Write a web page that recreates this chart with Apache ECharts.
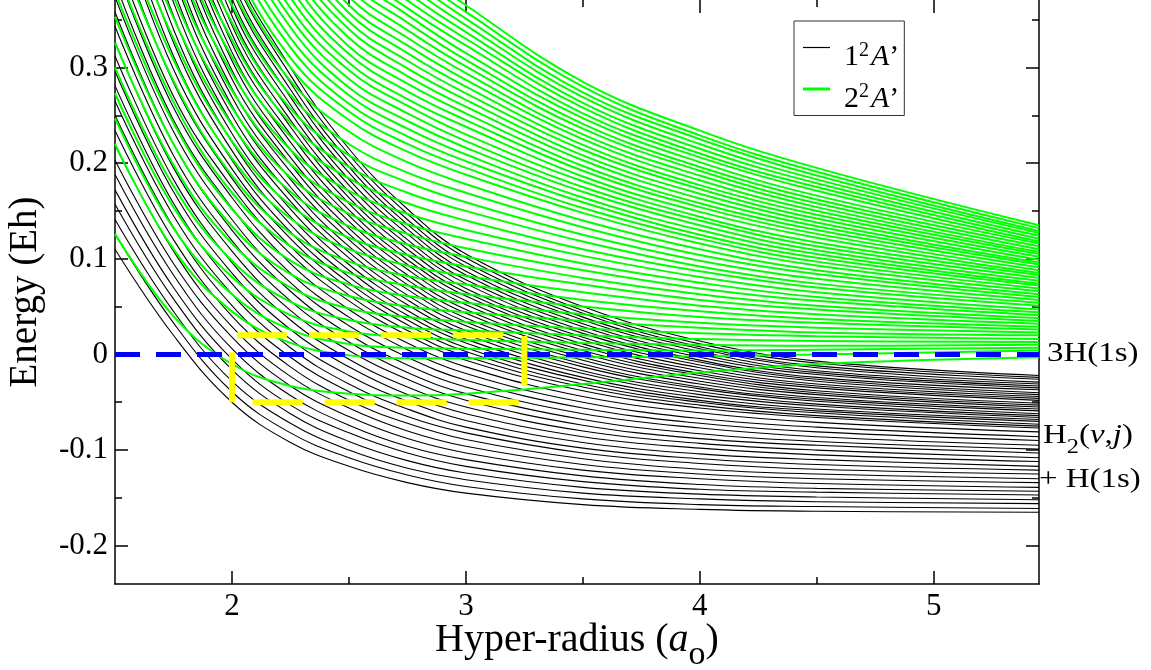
<!DOCTYPE html>
<html>
<head>
<meta charset="utf-8">
<script src="https://cdn.jsdelivr.net/npm/echarts@6/dist/echarts.min.js"></script>
<style>
html,body{margin:0;padding:0;background:#fff;}
#chart{width:1151px;height:670px;}
</style>
</head>
<body>
<div id="chart"></div>
<script>
// Hyper-radius sample points (a_o) shared by every curve
const rGrid = [1.5, 1.75, 2.0, 2.25, 2.5, 2.75, 3.0, 3.5, 4.0, 4.5, 5.45];

// 1 2A' adiabatic curves (Eh), one row per curve, values at rGrid
const blackCurves = [
  [0.110, 0.020, -0.050, -0.092, -0.117, -0.134, -0.145, -0.157, -0.162, -0.164, -0.165],
  [0.126, 0.033, -0.039, -0.082, -0.108, -0.126, -0.138, -0.151, -0.157, -0.159, -0.161],
  [0.141, 0.045, -0.028, -0.072, -0.100, -0.119, -0.131, -0.145, -0.151, -0.154, -0.156],
  [0.157, 0.058, -0.016, -0.062, -0.091, -0.111, -0.124, -0.139, -0.146, -0.149, -0.152],
  [0.172, 0.070, -0.005, -0.053, -0.082, -0.103, -0.117, -0.133, -0.141, -0.144, -0.147],
  [0.188, 0.083, 0.006, -0.043, -0.074, -0.096, -0.110, -0.127, -0.136, -0.140, -0.143],
  [0.203, 0.095, 0.018, -0.033, -0.065, -0.088, -0.103, -0.121, -0.130, -0.135, -0.139],
  [0.219, 0.108, 0.029, -0.023, -0.056, -0.080, -0.096, -0.115, -0.125, -0.130, -0.134],
  [0.234, 0.120, 0.040, -0.013, -0.048, -0.072, -0.089, -0.109, -0.120, -0.125, -0.130],
  [0.250, 0.133, 0.051, -0.003, -0.039, -0.065, -0.082, -0.103, -0.114, -0.120, -0.125],
  [0.265, 0.145, 0.063, 0.007, -0.031, -0.057, -0.076, -0.098, -0.109, -0.115, -0.121],
  [0.281, 0.158, 0.074, 0.016, -0.022, -0.049, -0.069, -0.092, -0.104, -0.110, -0.117],
  [0.296, 0.170, 0.085, 0.026, -0.013, -0.042, -0.062, -0.086, -0.098, -0.105, -0.112],
  [0.312, 0.183, 0.096, 0.036, -0.005, -0.034, -0.055, -0.080, -0.093, -0.100, -0.108],
  [0.327, 0.195, 0.108, 0.046, 0.004, -0.026, -0.048, -0.074, -0.088, -0.095, -0.103],
  [0.343, 0.208, 0.119, 0.056, 0.013, -0.019, -0.041, -0.068, -0.083, -0.091, -0.099],
  [0.358, 0.220, 0.130, 0.066, 0.021, -0.011, -0.034, -0.062, -0.077, -0.086, -0.095],
  [0.374, 0.233, 0.141, 0.075, 0.030, -0.003, -0.027, -0.056, -0.072, -0.081, -0.090],
  [0.389, 0.245, 0.153, 0.085, 0.039, 0.005, -0.020, -0.050, -0.067, -0.076, -0.086],
  [0.405, 0.258, 0.164, 0.095, 0.047, 0.012, -0.013, -0.044, -0.061, -0.071, -0.081],
  [0.420, 0.270, 0.175, 0.105, 0.056, 0.020, -0.006, -0.038, -0.056, -0.066, -0.077],
  [0.441, 0.284, 0.184, 0.113, 0.062, 0.025, -0.002, -0.034, -0.053, -0.064, -0.075],
  [0.462, 0.298, 0.194, 0.121, 0.069, 0.031, 0.003, -0.031, -0.050, -0.061, -0.073],
  [0.484, 0.312, 0.203, 0.128, 0.075, 0.036, 0.007, -0.027, -0.048, -0.059, -0.070],
  [0.505, 0.326, 0.213, 0.136, 0.081, 0.041, 0.012, -0.024, -0.045, -0.057, -0.068],
  [0.526, 0.340, 0.222, 0.144, 0.088, 0.046, 0.016, -0.020, -0.042, -0.054, -0.066],
  [0.547, 0.354, 0.231, 0.152, 0.094, 0.052, 0.021, -0.017, -0.039, -0.052, -0.064],
  [0.568, 0.368, 0.241, 0.160, 0.101, 0.057, 0.025, -0.013, -0.036, -0.049, -0.062],
  [0.590, 0.382, 0.250, 0.167, 0.107, 0.062, 0.030, -0.010, -0.034, -0.047, -0.059],
  [0.611, 0.396, 0.260, 0.175, 0.113, 0.068, 0.034, -0.006, -0.031, -0.045, -0.057],
  [0.632, 0.410, 0.269, 0.183, 0.120, 0.073, 0.038, -0.003, -0.028, -0.042, -0.055],
  [0.653, 0.424, 0.278, 0.191, 0.126, 0.078, 0.043, 0.001, -0.025, -0.040, -0.053],
  [0.674, 0.438, 0.288, 0.199, 0.132, 0.083, 0.047, 0.004, -0.022, -0.038, -0.051],
  [0.696, 0.452, 0.297, 0.206, 0.139, 0.089, 0.052, 0.008, -0.020, -0.035, -0.048],
  [0.717, 0.466, 0.307, 0.214, 0.145, 0.094, 0.056, 0.011, -0.017, -0.033, -0.046],
  [0.738, 0.480, 0.316, 0.222, 0.151, 0.099, 0.061, 0.015, -0.014, -0.031, -0.044],
  [0.759, 0.494, 0.325, 0.230, 0.158, 0.104, 0.065, 0.018, -0.011, -0.028, -0.042],
  [0.780, 0.508, 0.335, 0.238, 0.164, 0.110, 0.069, 0.022, -0.008, -0.026, -0.040],
  [0.802, 0.522, 0.344, 0.245, 0.170, 0.115, 0.074, 0.025, -0.006, -0.024, -0.037],
  [0.823, 0.536, 0.354, 0.253, 0.177, 0.120, 0.078, 0.029, -0.003, -0.021, -0.035],
  [0.844, 0.550, 0.363, 0.261, 0.183, 0.126, 0.083, 0.032, 0.000, -0.019, -0.033],
  [0.865, 0.564, 0.372, 0.269, 0.190, 0.131, 0.087, 0.036, 0.003, -0.017, -0.031],
  [0.886, 0.578, 0.382, 0.277, 0.196, 0.136, 0.092, 0.039, 0.006, -0.014, -0.029],
  [0.908, 0.592, 0.391, 0.284, 0.202, 0.141, 0.096, 0.043, 0.008, -0.012, -0.026],
  [0.929, 0.606, 0.401, 0.292, 0.209, 0.147, 0.101, 0.046, 0.011, -0.009, -0.024],
  [0.950, 0.620, 0.410, 0.300, 0.215, 0.152, 0.105, 0.050, 0.014, -0.007, -0.022]
];

// 2 2A' adiabatic curves (Eh), one row per curve, values at rGrid
const greenCurves = [
  [0.220, 0.110, 0.045, 0.012, -0.001, -0.004, -0.004, -0.003, -0.002, 0.000, 0.004],
  [0.247, 0.132, 0.063, 0.026, 0.011, 0.007, 0.006, 0.005, 0.004, 0.005, 0.007],
  [0.273, 0.154, 0.081, 0.041, 0.024, 0.018, 0.015, 0.012, 0.010, 0.009, 0.010],
  [0.300, 0.176, 0.098, 0.055, 0.036, 0.028, 0.025, 0.020, 0.016, 0.014, 0.013],
  [0.326, 0.198, 0.116, 0.070, 0.048, 0.039, 0.034, 0.027, 0.022, 0.019, 0.016],
  [0.353, 0.220, 0.134, 0.084, 0.061, 0.050, 0.044, 0.035, 0.028, 0.023, 0.020],
  [0.379, 0.242, 0.152, 0.098, 0.073, 0.061, 0.054, 0.042, 0.033, 0.028, 0.023],
  [0.406, 0.264, 0.169, 0.113, 0.085, 0.072, 0.063, 0.050, 0.039, 0.033, 0.026],
  [0.432, 0.286, 0.187, 0.127, 0.097, 0.082, 0.073, 0.057, 0.045, 0.037, 0.029],
  [0.459, 0.308, 0.205, 0.142, 0.110, 0.093, 0.082, 0.065, 0.051, 0.042, 0.032],
  [0.485, 0.330, 0.223, 0.156, 0.122, 0.104, 0.092, 0.073, 0.057, 0.047, 0.035],
  [0.512, 0.352, 0.240, 0.170, 0.134, 0.115, 0.102, 0.080, 0.063, 0.051, 0.038],
  [0.538, 0.374, 0.258, 0.185, 0.147, 0.126, 0.111, 0.088, 0.069, 0.056, 0.041],
  [0.565, 0.396, 0.276, 0.199, 0.159, 0.136, 0.121, 0.095, 0.075, 0.060, 0.044],
  [0.591, 0.418, 0.294, 0.214, 0.171, 0.147, 0.130, 0.103, 0.081, 0.065, 0.047],
  [0.618, 0.440, 0.311, 0.228, 0.184, 0.158, 0.140, 0.110, 0.087, 0.070, 0.051],
  [0.644, 0.462, 0.329, 0.242, 0.196, 0.169, 0.150, 0.118, 0.092, 0.074, 0.054],
  [0.671, 0.484, 0.347, 0.257, 0.208, 0.180, 0.159, 0.125, 0.098, 0.079, 0.057],
  [0.697, 0.506, 0.365, 0.271, 0.220, 0.190, 0.169, 0.133, 0.104, 0.084, 0.060],
  [0.724, 0.528, 0.382, 0.286, 0.233, 0.201, 0.178, 0.140, 0.110, 0.088, 0.063],
  [0.750, 0.550, 0.400, 0.300, 0.245, 0.212, 0.188, 0.148, 0.116, 0.093, 0.066],
  [0.768, 0.564, 0.412, 0.310, 0.254, 0.220, 0.195, 0.153, 0.121, 0.097, 0.069],
  [0.786, 0.578, 0.424, 0.321, 0.262, 0.228, 0.202, 0.159, 0.125, 0.101, 0.072],
  [0.804, 0.592, 0.436, 0.331, 0.271, 0.236, 0.209, 0.164, 0.130, 0.105, 0.074],
  [0.822, 0.606, 0.448, 0.342, 0.279, 0.244, 0.216, 0.170, 0.135, 0.109, 0.077],
  [0.840, 0.620, 0.460, 0.352, 0.288, 0.252, 0.223, 0.175, 0.140, 0.113, 0.080],
  [0.858, 0.634, 0.472, 0.362, 0.297, 0.260, 0.230, 0.181, 0.144, 0.117, 0.083],
  [0.876, 0.648, 0.484, 0.373, 0.305, 0.267, 0.238, 0.186, 0.149, 0.122, 0.085],
  [0.894, 0.662, 0.496, 0.383, 0.314, 0.275, 0.245, 0.192, 0.154, 0.126, 0.088],
  [0.912, 0.676, 0.508, 0.394, 0.322, 0.283, 0.252, 0.197, 0.158, 0.130, 0.091],
  [0.930, 0.690, 0.520, 0.404, 0.331, 0.291, 0.259, 0.203, 0.163, 0.134, 0.094],
  [0.948, 0.704, 0.532, 0.414, 0.340, 0.299, 0.266, 0.208, 0.168, 0.138, 0.096],
  [0.966, 0.718, 0.544, 0.425, 0.348, 0.307, 0.273, 0.214, 0.173, 0.142, 0.099],
  [0.984, 0.732, 0.556, 0.435, 0.357, 0.315, 0.280, 0.219, 0.177, 0.146, 0.102],
  [1.002, 0.746, 0.568, 0.446, 0.365, 0.323, 0.287, 0.225, 0.182, 0.150, 0.105],
  [1.020, 0.760, 0.580, 0.456, 0.374, 0.331, 0.294, 0.230, 0.187, 0.154, 0.107],
  [1.038, 0.774, 0.592, 0.466, 0.383, 0.339, 0.301, 0.236, 0.192, 0.158, 0.110],
  [1.056, 0.788, 0.604, 0.477, 0.391, 0.347, 0.308, 0.241, 0.196, 0.162, 0.113],
  [1.074, 0.802, 0.616, 0.487, 0.400, 0.355, 0.315, 0.247, 0.201, 0.166, 0.116],
  [1.092, 0.816, 0.628, 0.498, 0.408, 0.362, 0.323, 0.252, 0.206, 0.171, 0.118],
  [1.110, 0.830, 0.640, 0.508, 0.417, 0.370, 0.330, 0.258, 0.210, 0.175, 0.121],
  [1.128, 0.844, 0.652, 0.518, 0.426, 0.378, 0.337, 0.263, 0.215, 0.179, 0.124],
  [1.146, 0.858, 0.664, 0.529, 0.434, 0.386, 0.344, 0.269, 0.220, 0.183, 0.127],
  [1.164, 0.872, 0.676, 0.539, 0.443, 0.394, 0.351, 0.274, 0.225, 0.187, 0.129],
  [1.182, 0.886, 0.688, 0.550, 0.451, 0.402, 0.358, 0.280, 0.229, 0.191, 0.132],
  [1.200, 0.900, 0.700, 0.560, 0.460, 0.410, 0.365, 0.285, 0.234, 0.195, 0.135]
];

// the lowest 2 2A' curve, which dips below the 3H(1s) threshold
const greenDip = [0.126, 0.040, -0.010, -0.033, -0.041, -0.043, -0.041, -0.031, -0.019, -0.010, -0.003];

// 3H(1s) threshold line and the highlighted region (corners, closed path)
const thresholdLine = [[1.5, 0], [5.45, 0]];
const boxPath = [[2.0, -0.05], [2.0, 0.02], [3.25, 0.02], [3.25, -0.05], [2.0, -0.05]];

// axis ticks
const xMajor = [2, 3, 4, 5];
const xMinor = [2.5, 3.5, 4.5];
const yMajor = [-0.2, -0.1, 0, 0.1, 0.2, 0.3];
const yMinor = [-0.15, -0.05, 0.05, 0.15, 0.25, 0.35];

const NAME1 = '1²A’';
const NAME2 = '2²A’';

const F = '"Liberation Serif","Times New Roman",Times,serif';
const tickLS = { color: '#000', width: 1.5 };
const X_MIN = 1.5, X_MAX = 5.45, Y_MIN = -0.24, Y_MAX = 0.3705;

function xAxisDef(position, ticks, len, showLine, extra) {
  return Object.assign({
    type: 'value', position: position, min: X_MIN, max: X_MAX,
    axisLine: { show: showLine, onZero: false, lineStyle: { color: '#000', width: 1.5 } },
    axisTick: { show: true, inside: true, length: len, customValues: ticks, lineStyle: tickLS },
    axisLabel: { show: false },
    splitLine: { show: false }
  }, extra || {});
}
function yAxisDef(position, ticks, len, showLine, extra) {
  return Object.assign({
    type: 'value', position: position, min: Y_MIN, max: Y_MAX,
    axisLine: { show: showLine, onZero: false, lineStyle: { color: '#000', width: 1.5 } },
    axisTick: { show: true, inside: true, length: len, customValues: ticks, lineStyle: tickLS },
    axisLabel: { show: false },
    splitLine: { show: false }
  }, extra || {});
}

const series = [];
blackCurves.forEach(function (row) {
  series.push({
    type: 'line', name: NAME1, xAxisIndex: 0, yAxisIndex: 0,
    data: rGrid.map(function (r, j) { return [r, row[j]]; }),
    symbol: 'none', showSymbol: false, smooth: 0.4, clip: true, silent: true,
    lineStyle: { color: '#000000', width: 1.1 }, itemStyle: { color: '#000000' }, z: 2
  });
});
greenCurves.concat([greenDip]).forEach(function (row) {
  series.push({
    type: 'line', name: NAME2, xAxisIndex: 0, yAxisIndex: 0,
    data: rGrid.map(function (r, j) { return [r, row[j]]; }),
    symbol: 'none', showSymbol: false, smooth: 0.4, clip: true, silent: true,
    lineStyle: { color: '#00ff00', width: 2 }, itemStyle: { color: '#00ff00' }, z: 3
  });
});
series.push({
  type: 'line', name: '3H(1s) threshold', data: thresholdLine, symbol: 'none', silent: true,
  lineStyle: { color: '#0000ff', width: 5, type: [25, 16] }, z: 5
});
series.push({
  type: 'line', name: 'region', data: boxPath, symbol: 'none', silent: true, smooth: false,
  lineStyle: { color: '#ffff00', width: 6, type: [50, 22] }, z: 6
});

const legendRich = {
  n0: { fontFamily: F, fontSize: 30, color: '#000', lineHeight: 20, padding: [20, 0, 0, 9] },
  n: { fontFamily: F, fontSize: 30, color: '#000', lineHeight: 20, padding: [20, 0, 0, 0] },
  a: { fontFamily: F, fontSize: 30, color: '#000', fontStyle: 'italic', lineHeight: 20, padding: [20, 0, 0, 2] },
  sup: { fontFamily: F, fontSize: 20, color: '#000', lineHeight: 20, padding: [6, 0, 0, 0] }
};

const option = {
  animation: false,
  backgroundColor: '#ffffff',
  grid: { left: 115, right: 112, top: 0, bottom: 86, containLabel: false, outerBoundsMode: 'none' },
  xAxis: [
    xAxisDef('bottom', xMajor, 13, true, {
      axisLabel: { show: true, customValues: xMajor, margin: 7, color: '#000', fontFamily: F, fontSize: 31,
        formatter: function (v) { return String(Math.round(v)); } },
      name: '{n|Hyper-radius (}{i|a}{s|o}{n|)}', nameLocation: 'middle', nameGap: 35, nameMoveOverlap: false,
      nameTextStyle: { rich: {
        n: { fontFamily: F, fontSize: 40, color: '#000', lineHeight: 42 },
        i: { fontFamily: F, fontSize: 40, color: '#000', fontStyle: 'italic', lineHeight: 42 },
        s: { fontFamily: F, fontSize: 34, color: '#000', lineHeight: 42, padding: [30, 0, 0, 0] }
      } }
    }),
    xAxisDef('bottom', xMinor, 7, false),
    xAxisDef('top', xMajor, 13, false),
    xAxisDef('top', xMinor, 7, false)
  ],
  yAxis: [
    yAxisDef('left', yMajor, 13, true, {
      axisLabel: { show: true, customValues: yMajor, margin: 7, color: '#000', fontFamily: F, fontSize: 31,
        formatter: function (v) { return String(Math.round(v * 10) / 10); } },
      name: 'Energy (Eh)', nameLocation: 'middle', nameGap: 70, nameMoveOverlap: false,
      nameTextStyle: { fontFamily: F, fontSize: 39, color: '#000' }
    }),
    yAxisDef('left', yMinor, 7, false),
    yAxisDef('right', yMajor, 13, true),
    yAxisDef('right', yMinor, 7, false)
  ],
  legend: {
    show: true, selectedMode: false, orient: 'vertical', left: 794, top: 21,
    backgroundColor: '#ffffff', borderColor: '#333', borderWidth: 1, borderRadius: 0,
    padding: [1.5, 5, 1.5, 9], itemGap: -8.5, itemWidth: 27, itemHeight: 14,
    data: [
      { name: NAME1, icon: 'path://M0,0H27V1.2H0Z' },
      { name: NAME2, icon: 'path://M0,0H27V3H0Z' }
    ],
    formatter: function (name) {
      return name === NAME1 ? '{n0|1}{sup|2}{a|A}{n|’}' : '{n0|2}{sup|2}{a|A}{n|’}';
    },
    textStyle: { rich: legendRich }
  },
  graphic: [
    { type: 'text', x: 1047, y: 354, scaleX: 1.22, z: 10,
      style: { text: '3H(1s)', fontFamily: F, fontSize: 27, fill: '#000', verticalAlign: 'middle', align: 'left' } },
    { type: 'text', x: 1043, y: 436, scaleX: 1.22, z: 10,
      style: { text: '{n|H}{s|2}{n|(}{i|v}{n|,}{i|j}{n|)}', fill: '#000', verticalAlign: 'middle', align: 'left',
        rich: {
          n: { fontFamily: F, fontSize: 27, fill: '#000', lineHeight: 28 },
          i: { fontFamily: F, fontSize: 27, fill: '#000', fontStyle: 'italic', lineHeight: 28 },
          s: { fontFamily: F, fontSize: 20, fill: '#000', lineHeight: 20, padding: [24, 0, 0, 0] }
        } } },
    { type: 'text', x: 1039, y: 480, scaleX: 1.22, z: 10,
      style: { text: '+ H(1s)', fontFamily: F, fontSize: 27, fill: '#000', verticalAlign: 'middle', align: 'left' } }
  ],
  series: series
};

const chart = echarts.init(document.getElementById('chart'), null, { renderer: 'canvas' });
chart.setOption(option);
</script>
</body>
</html>
